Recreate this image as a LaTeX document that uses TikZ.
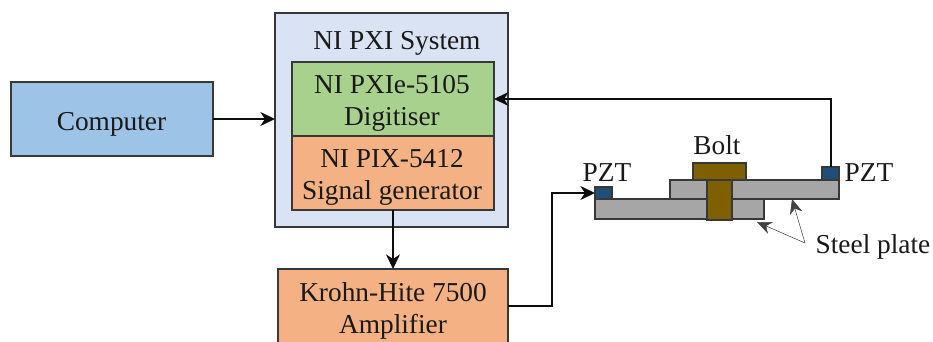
\documentclass[tikz,border=0pt]{standalone}
\usepackage{fontspec}
\setmainfont{Liberation Serif}
\usetikzlibrary{arrows.meta}
\tikzset{
  x=0.75pt,y=-0.75pt,
  boxed/.style={draw=black!78,line width=1.15pt,anchor=north west,inner sep=0pt,outer sep=0pt,align=center},
  lbl/.style={font=\fontsize{20.5}{24}\selectfont,inner sep=0pt,align=center,text=black!90},
  conn/.style={draw=black!95,line width=1.5pt,-{Stealth[length=11pt,width=10.5pt,inset=3.5pt]}},
  thin arrow/.style={draw=black!75,line width=0.4pt,-{Stealth[length=11pt,width=9.5pt,inset=3.5pt]}},
  plate/.style={boxed,fill=plategray},
  bolt/.style={boxed,fill=boltbrown},
  pzt/.style={boxed,fill=pztblue},
}
\definecolor{compblue}{RGB}{157,195,230}
\definecolor{sysblue}{RGB}{218,227,243}
\definecolor{diggreen}{RGB}{169,209,142}
\definecolor{genorange}{RGB}{244,177,131}
\definecolor{plategray}{RGB}{166,166,166}
\definecolor{boltbrown}{RGB}{127,96,0}
\definecolor{pztblue}{RGB}{31,78,121}
\begin{document}
\begin{tikzpicture}
\useasboundingbox (0,0) rectangle (933,342);
\begin{scope}
\clip (0,0) rectangle (933,342);
\node[boxed,fill=compblue,minimum width=151.5pt,minimum height=55.5pt] (computer) at (11,82) {};
\node[lbl] at (111.5,124) {Computer};
\node[boxed,fill=sysblue,minimum width=174.75pt,minimum height=160.5pt] (pxi) at (275,13) {};
\node[lbl] (pxilabel) at (397,43) {NI PXI System};
\node[boxed,fill=diggreen,minimum width=151.5pt,minimum height=55.5pt] (dig) at (292,62) {};
\node[lbl] at (392,103) {NI PXIe-5105\\Digitiser};
\node[boxed,fill=genorange,minimum width=151.5pt,minimum height=55.5pt] (gen) at (292,136) {};
\node[lbl] at (392,177) {NI PIX-5412\\Signal generator};
\node[boxed,fill=genorange,minimum width=172.5pt,minimum height=60pt] (amp) at (278,269) {};
\node[lbl] at (393,311) {Krohn-Hite 7500\\Amplifier};
\end{scope}
\node[plate,minimum width=126.75pt,minimum height=15pt] (lower) at (595,199) {};
\node[plate,minimum width=126.75pt,minimum height=14.25pt] (upper) at (670,180) {};
\node[bolt,minimum width=39.75pt,minimum height=12.75pt] (head) at (693,163) {};
\node[bolt,minimum width=18.75pt,minimum height=30pt] (shank) at (707,180) {};
\node[pzt,minimum width=12.75pt,minimum height=9pt] (pztl) at (595,187) {};
\node[pzt,minimum width=12.75pt,minimum height=9.75pt] (pztr) at (822,167) {};
\node[lbl] (boltlabel) at (717,145.5) {Bolt};
\node[lbl] (pztltext) at (607,173) {PZT};
\node[lbl] (pztrtext) at (869,172.5) {PZT};
\node[lbl] (steel) at (873,247) {Steel plate};
\draw[conn] (computer.east) -- (pxi.west |- computer.east);
\draw[conn] (pztr.north) |- (dig.east);
\draw[conn] (gen.south -| 393,0) -- (amp.north -| 393,0);
\draw[conn] (amp.east |- 0,306) -| (552,193) -- (pztl.west);
\coordinate (fork) at (805,243);
\draw[thin arrow] (fork) -- (792,199);
\draw[thin arrow] (fork) -- (757,222);
\end{tikzpicture}
\end{document}
